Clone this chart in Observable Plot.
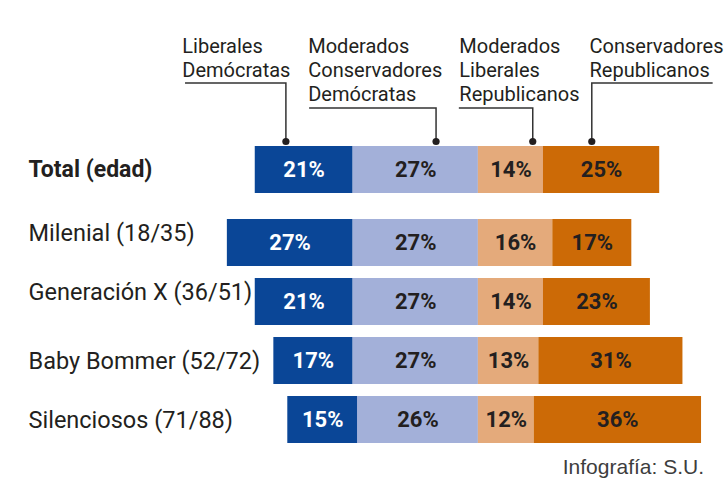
<!DOCTYPE html>
<html>
<head>
<meta charset="utf-8">
<script src="https://cdn.jsdelivr.net/npm/d3@7"></script>
<script src="https://cdn.jsdelivr.net/npm/@observablehq/plot@0.6"></script>
<style>
  html, body { margin: 0; padding: 0; background: #fff; }
  #wrap { position: relative; width: 728px; height: 500px; }
  #caption { position: absolute; top: 455px; right: 24px; font-family: "Liberation Sans", Arial, sans-serif; font-size: 21px; line-height: 24px; color: #3d3d3d; }
</style>
</head>
<body>
<div id="wrap">
  <div id="chart"></div>
  <div id="caption">Infografía: S.U.</div>
</div>
<script>
// ---- Data ----
const groups = ["Total (edad)", "Milenial (18/35)", "Generación X (36/51)", "Baby Bommer (52/72)", "Silenciosos (71/88)"];
const series = ["Liberales Demócratas", "Moderados Conservadores Demócratas", "Moderados Liberales Republicanos", "Conservadores Republicanos"];
const libDem     = [21, 27, 21, 17, 15];
const modConsDem = [27, 27, 27, 27, 26];
const modLibRep  = [14, 16, 14, 13, 12];
const consRep    = [25, 17, 23, 31, 36];
const headerLabels = ["Liberales\nDemócratas", "Moderados\nConservadores\nDemócratas", "Moderados\nLiberales\nRepublicanos", "Conservadores\nRepublicanos"];

// ---- Annotation layout (in x-scale units, %) ----
const annTextX   = [-63.7, -36.6, -4.1, 23.9];
const annLineX   = [-63.0, -36.3, -4.1, 50.5];
const annAnchorX = [-41.3, -9.0, 11.8, 24.5];

// ---- Style ----
const colors = ["#0a4697", "#a3b0d9", "#e4aa7b", "#cc6a06"];
const ink = "#231f20";
const font = "Roboto, 'Liberation Sans', sans-serif";
const totalShift = -14;
const raised = new Set(["Milenial (18/35)", "Generación X (36/51)"]);

// ---- Table (stack order: inner segments first on each side) ----
const values = [libDem, modConsDem, modLibRep, consRep];
const sides = [-1, -1, 1, 1];
const stackOrder = [1, 0, 2, 3];
const rows = [];
groups.forEach((g, i) => {
  stackOrder.forEach(s => rows.push({group: g, series: series[s], s, value: values[s][i], signed: sides[s] * values[s][i]}));
});
const totalRows = rows.filter(d => d.group === groups[0]);
const otherRows = rows.filter(d => d.group !== groups[0]);
const annotations = headerLabels.map((label, i) => ({label, tx: annTextX[i], lx: annLineX[i], ax: annAnchorX[i]}));

function barMarks(data, dy) {
  return [
    Plot.barX(data, {x: "signed", y: "group", z: "series", fill: "series", dy}),
    Plot.text(data, Plot.stackX({x: "signed", y: "group", z: "series", dy,
      text: d => d.s === 0 ? null : d.value + "%", fill: ink,
      fontSize: 22, fontWeight: "bold"})),
    Plot.text(data, Plot.stackX({x: "signed", y: "group", z: "series", dy,
      text: d => d.s === 0 ? d.value + "%" : null, fill: "white",
      fontSize: 22, fontWeight: "bold"}))
  ];
}

function leaders(index, scales, vals, dims) {
  const x = scales.x;
  const barTop = scales.y(groups[0]) + totalShift;
  const yDot = barTop - 4.5;
  const g = d3.create("svg:g");
  annotations.forEach(a => {
    const n = a.label.split("\n").length;
    const yh = 50 + (n - 1) * 25 + 8;
    g.append("path")
      .attr("d", `M${x(a.lx)},${yh}H${x(a.ax)}V${yDot}`)
      .attr("fill", "none").attr("stroke", "#333").attr("stroke-width", 1.5);
    g.append("circle").attr("cx", x(a.ax)).attr("cy", yDot).attr("r", 3.6).attr("fill", ink);
  });
  return g.node();
}

const chart = Plot.plot({
  width: 728, height: 455,
  marginTop: 153, marginBottom: 4, marginLeft: 0, marginRight: 0,
  x: {domain: [-102.8, 53.8], axis: null},
  y: {domain: groups, paddingInner: 0.2, paddingOuter: 0.1, axis: null},
  color: {domain: series, range: colors},
  style: {fontFamily: font, background: "white"},
  marks: [
    ...barMarks(otherRows, 0),
    ...barMarks(totalRows, totalShift),
    Plot.text(groups.slice(1).filter(g => !raised.has(g)), {y: d => d, text: d => d, frameAnchor: "left", dx: 28, textAnchor: "start", fontSize: 23.5, letterSpacing: -0.8, fill: ink}),
    Plot.text(groups.slice(1).filter(g => raised.has(g)), {y: d => d, text: d => d, frameAnchor: "left", dx: 28, dy: -10, textAnchor: "start", fontSize: 23.5, letterSpacing: -0.8, fill: ink}),
    Plot.text([groups[0]], {y: d => d, text: d => d, frameAnchor: "left", dx: 28, dy: totalShift, textAnchor: "start", fontSize: 23, letterSpacing: -0.7, fontWeight: "bold", fill: ink}),
    Plot.text(annotations, {x: "tx", text: "label", frameAnchor: "top", lineAnchor: "top", textAnchor: "start", dy: -118, fontSize: 20, letterSpacing: -0.5, lineHeight: 1.2, fill: ink}),
    leaders
  ]
});
document.getElementById("chart").appendChild(chart);
</script>
</body>
</html>
